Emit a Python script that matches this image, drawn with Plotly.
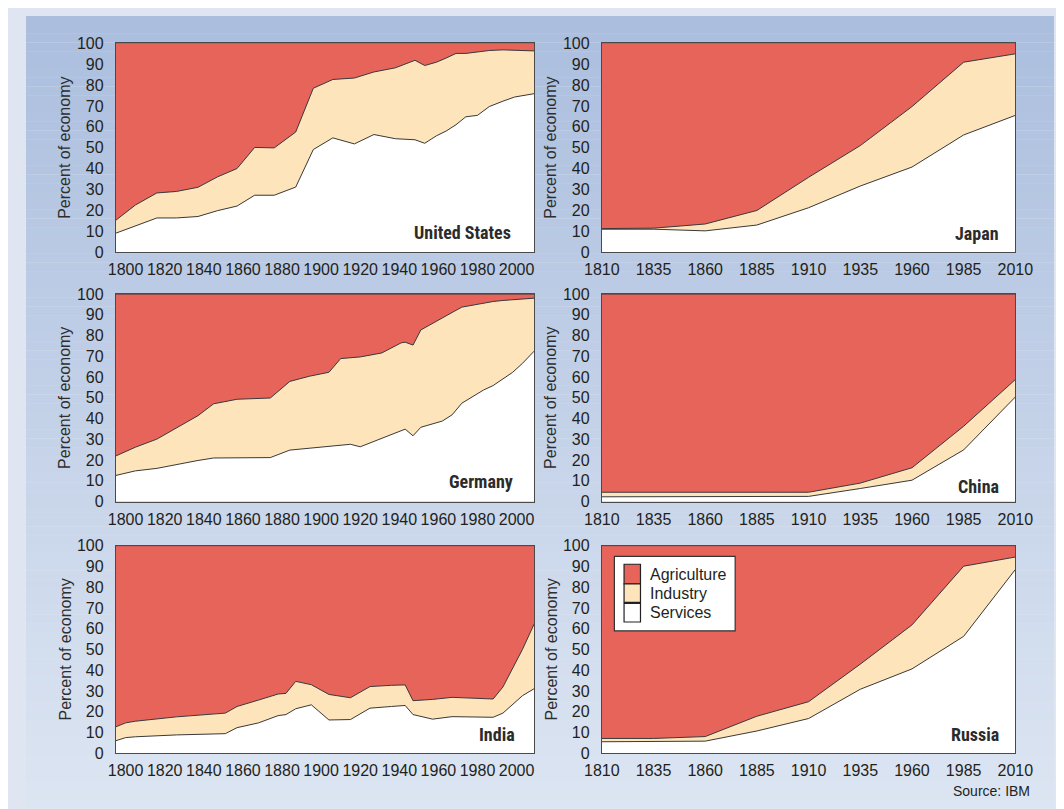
import plotly.graph_objects as go

# ---------------- data (percent of economy) ----------------
us_years = [1795, 1805, 1816, 1826, 1837, 1847, 1857, 1866, 1876, 1887, 1896, 1906, 1917,
            1927, 1938, 1948, 1953, 1959, 1964, 1969, 1974, 1980, 1986, 1993, 1999, 2009]
us_services = [9.0, 12.6, 16.3, 16.3, 17.0, 19.8, 22.0, 27.2, 27.2, 31.1, 49.1, 54.7, 51.8,
               56.3, 54.3, 53.8, 52.1, 55.7, 58.0, 61.0, 64.8, 65.5, 69.7, 72.3, 74.3, 75.9]
us_industry = [6.2, 9.9, 12.0, 12.7, 14.0, 16.2, 18.0, 22.9, 22.7, 26.4, 29.4, 28.0, 31.6,
               30.0, 34.0, 38.1, 37.3, 35.3, 35.0, 34.2, 30.4, 30.3, 26.9, 24.6, 22.5, 20.5]
us_agriculture = [84.8, 77.5, 71.7, 71.0, 69.0, 64.0, 60.0, 49.9, 50.1, 42.5, 21.5, 17.3, 16.6,
                  13.7, 11.7, 8.1, 10.6, 9.0, 7.0, 4.8, 4.8, 4.2, 3.4, 3.1, 3.2, 3.6]

jp_years = [1810, 1835, 1860, 1885, 1910, 1935, 1960, 1985, 2010]
jp_services = [10.9, 10.9, 10.1, 12.9, 21.2, 31.6, 40.7, 56.1, 65.5]
jp_industry = [0.3, 0.5, 3.3, 7.0, 14.6, 19.4, 29.0, 34.9, 29.5]
jp_agriculture = [88.8, 88.6, 86.6, 80.1, 64.2, 49.0, 30.3, 9.0, 5.0]

de_years = [1795, 1805, 1816, 1826, 1837, 1845, 1857, 1874, 1884, 1894, 1904, 1910, 1915, 1920,
            1931, 1941, 1943, 1947, 1951, 1962, 1967, 1972, 1983, 1988, 1993, 1998, 2003, 2009]
de_services = [12.6, 14.8, 16.0, 17.9, 19.8, 21.0, 21.2, 21.2, 24.8, 25.7, 26.7, 27.3, 27.6, 26.4,
               30.5, 34.5, 34.9, 31.7, 35.8, 38.8, 41.8, 47.4, 53.7, 55.9, 59.2, 62.3, 66.6, 72.5]
de_industry = [9.4, 11.4, 14.1, 17.4, 21.6, 26.1, 28.1, 28.7, 33.1, 34.7, 35.6, 41.6, 41.6, 43.3,
               41.1, 42.0, 41.9, 43.7, 46.9, 49.9, 49.3, 46.3, 42.1, 40.5, 37.7, 35.0, 31.0, 25.5]
de_agriculture = [78.0, 73.8, 69.9, 64.7, 58.6, 52.9, 50.7, 50.1, 42.1, 39.6, 37.7, 31.1, 30.8, 30.3,
                  28.4, 23.5, 23.2, 24.6, 17.3, 11.3, 8.9, 6.3, 4.2, 3.6, 3.1, 2.7, 2.4, 2.0]

cn_years = [1810, 1835, 1860, 1885, 1910, 1935, 1960, 1985, 2010]
cn_services = [2.3, 2.3, 2.3, 2.3, 2.5, 6.3, 10.3, 24.9, 50.4]
cn_industry = [2.2, 2.2, 2.2, 2.2, 2.0, 2.6, 6.0, 11.4, 8.4]
cn_agriculture = [95.5, 95.5, 95.5, 95.5, 95.5, 91.1, 83.7, 63.7, 41.2]

in_years = [1795, 1800, 1805, 1826, 1851, 1857, 1868, 1878, 1882, 1887, 1895, 1904, 1915,
            1925, 1936, 1943, 1947, 1957, 1967, 1977, 1988, 1993, 1998, 2003, 2009]
in_services = [6.0, 7.5, 7.9, 8.8, 9.4, 12.3, 14.6, 18.1, 18.6, 21.4, 23.3, 16.0, 16.2,
               21.7, 22.5, 23.0, 18.6, 16.4, 17.6, 17.6, 17.3, 19.3, 23.3, 27.7, 31.1]
in_industry = [6.7, 7.1, 7.5, 8.7, 9.9, 10.2, 11.0, 10.4, 10.2, 13.2, 9.7, 12.3, 10.5,
               10.4, 10.2, 9.9, 6.7, 9.5, 9.3, 9.0, 8.8, 12.6, 17.3, 22.3, 31.2]
in_agriculture = [87.3, 85.4, 84.6, 82.5, 80.7, 77.5, 74.4, 71.5, 71.2, 65.4, 67.0, 71.7, 73.3,
                  67.9, 67.3, 67.1, 74.7, 74.1, 73.1, 73.4, 73.9, 68.1, 59.4, 50.0, 37.7]

ru_years = [1810, 1835, 1860, 1885, 1910, 1935, 1960, 1985, 2010]
ru_services = [5.5, 5.5, 5.8, 10.7, 16.7, 30.8, 40.6, 56.3, 88.5]
ru_industry = [1.6, 1.6, 2.2, 7.1, 8.1, 12.1, 21.2, 33.8, 6.0]
ru_agriculture = [92.9, 92.9, 92.0, 82.2, 75.2, 57.1, 38.2, 9.9, 5.5]

left_ticks = [1800, 1820, 1840, 1860, 1880, 1900, 1920, 1940, 1960, 1980, 2000]
right_ticks = [1810, 1835, 1860, 1885, 1910, 1935, 1960, 1985, 2010]
y_ticks = [0, 10, 20, 30, 40, 50, 60, 70, 80, 90, 100]
sector_names = ["Agriculture", "Industry", "Services"]
y_title = "Percent of economy"
source_text = "Source: IBM"

# ---------------- style / layout ----------------
W, H = 1064, 809
OFF = 8  # page body margin


def px(x):
    return (x - OFF) / W


def py(y):
    return 1 - (y - OFF) / H


C_AGR = "#e6645a"
C_IND = "#fde4bb"
C_SER = "#ffffff"
LINE = "#3a3a3a"
TXT = "#231f20"
FONT = "Liberation Sans, Arial, sans-serif"
NARROW = "Liberation Sans Narrow, Arial Narrow, Roboto Condensed, Liberation Sans, Arial"

cols = [(101, 534), (604, 1032)]
rows = [(36, 249), (292, 504), (549, 761)]

panels = [
    ("United States", us_years, us_services, us_industry, us_agriculture, 0, 0, [1795, 2009], left_ticks, 22, 20),
    ("Japan", jp_years, jp_services, jp_industry, jp_agriculture, 0, 1, [1810, 2010], right_ticks, 15, 19),
    ("Germany", de_years, de_services, de_industry, de_agriculture, 1, 0, [1795, 2009], left_ticks, 20, 20),
    ("China", cn_years, cn_services, cn_industry, cn_agriculture, 1, 1, [1810, 2010], right_ticks, 15, 15),
    ("India", in_years, in_services, in_industry, in_agriculture, 2, 0, [1795, 2009], left_ticks, 18, 19),
    ("Russia", ru_years, ru_services, ru_industry, ru_agriculture, 2, 1, [1810, 2010], right_ticks, 15, 19),
]

fig = go.Figure()
layout = {}
annotations = []
shapes = []

# gradient background
N = 90
top_c = (171, 190, 222)
bot_c = (220, 229, 242)
for b in range(N):
    t = b / (N - 1)
    c = tuple(round(top_c[j] + (bot_c[j] - top_c[j]) * t) for j in range(3))
    shapes.append(dict(type="rect", xref="paper", yref="paper", x0=0, x1=1,
                       y0=1 - (b + 1.02) / N, y1=1 - b / N, line=dict(width=0),
                       fillcolor="rgb(%d,%d,%d)" % c, layer="below"))

for k, (name, yrs, ser, ind, agr, r, c, xr, xt, inset_x, inset_y) in enumerate(panels, start=1):
    xa = "x" if k == 1 else "x%d" % k
    ya = "y" if k == 1 else "y%d" % k
    g = "g%d" % k
    for vals, col in ((ser, C_SER), (ind, C_IND), (agr, C_AGR)):
        fig.add_trace(go.Scatter(x=yrs, y=vals, xaxis=xa, yaxis=ya, stackgroup=g, mode="lines",
                                 line=dict(color=LINE, width=1), fillcolor=col,
                                 showlegend=False, hoverinfo="skip"))
    x0, x1 = cols[c]
    y0, y1 = rows[r]
    common = dict(showline=True, mirror=True, linecolor="#4a4a4a", linewidth=1,
                  showgrid=False, zeroline=False, ticks="outside",
                  tickcolor="rgba(0,0,0,0)", tickfont=dict(family=FONT, size=16, color=TXT))
    layout["xaxis%d" % k] = dict(domain=[px(x0), px(x1)], range=xr, anchor=ya,
                                 tickvals=xt, ticklen=3, fixedrange=True, **common)
    layout["yaxis%d" % k] = dict(domain=[py(y1), py(y0)], range=[0, 100], anchor=xa,
                                 tickvals=y_ticks, ticklen=8, fixedrange=True, **common)
    annotations.append(dict(xref="paper", yref="paper", x=px(x1 - inset_x), y=py(y1 - inset_y),
                            xanchor="right", yanchor="middle", text="<b>%s</b>" % name, showarrow=False,
                            font=dict(family=NARROW, size=18, color="#2b2b2b")))
    tx = 48.5 if c == 0 else 551.5
    annotations.append(dict(xref="paper", yref="paper", x=px(tx), y=py((y0 + y1) / 2),
                            xanchor="center", yanchor="middle", textangle=-90, text=y_title,
                            showarrow=False, font=dict(family=FONT, size=16, color="#2e2e2e")))

# legend (drawn in the Russia panel)
shapes.append(dict(type="rect", xref="paper", yref="paper", x0=px(617), x1=px(742), y0=py(636), y1=py(560),
                   fillcolor="white", line=dict(color="#333333", width=1.2), layer="above"))
sw = [(568, 588, C_AGR), (588, 607, C_IND), (608, 627, C_SER)]
for (a, b, col), lab in zip(sw, sector_names):
    shapes.append(dict(type="rect", xref="paper", yref="paper", x0=px(627), x1=px(644), y0=py(b), y1=py(a),
                       fillcolor=col, line=dict(color="#222222", width=1.2), layer="above"))
    annotations.append(dict(xref="paper", yref="paper", x=px(652), y=py((a + b) / 2), xanchor="left",
                            yanchor="middle", text=lab, showarrow=False,
                            font=dict(family=FONT, size=16, color=TXT)))

annotations.append(dict(xref="paper", yref="paper", x=px(1049), y=py(800), xanchor="right", yanchor="middle",
                        text=source_text, showarrow=False, font=dict(family=FONT, size=14, color=TXT)))

layout["xaxis"] = layout.pop("xaxis1")
layout["yaxis"] = layout.pop("yaxis1")
layout["xaxis"]["anchor"] = "y"
layout["yaxis"]["anchor"] = "x"
fig.update_layout(**layout)
fig.update_layout(width=W, height=H, margin=dict(l=0, r=0, t=0, b=0), paper_bgcolor="#dfe6f2",
                  plot_bgcolor="white", shapes=shapes, annotations=annotations, showlegend=False)

fig.write_html("out.html", config={"displayModeBar": False})
